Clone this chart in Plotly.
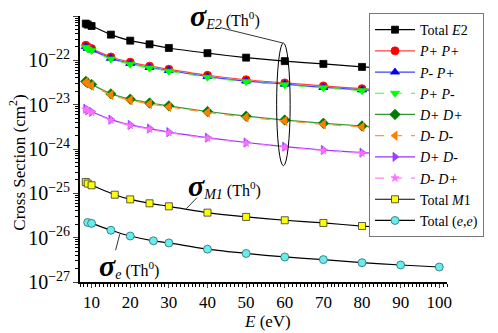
import plotly.graph_objects as go

# energies (eV)
E_main = [8.5, 9, 10, 15, 20, 25, 30, 40, 50, 60, 70, 80, 90, 100]
E_m1 = [8.5, 9, 10, 16, 20, 25, 30, 40, 50, 60, 70, 80, 90, 100]
E_ee = [9, 10, 15, 20, 26, 30, 40, 50, 60, 70, 80, 90, 100]

# cross sections (cm^2)
total_e2 = [6.74e-22, 6.39e-22, 5.95e-22, 3.8e-22, 2.78e-22, 2.3e-22, 1.9e-22, 1.45e-22, 1.15e-22, 9.6e-23, 8.3e-23, 7.1e-23, 6.4e-23, 5.8e-23]
pp_pp = [2.19e-22, 2.0e-22, 1.84e-22, 1.19e-22, 9.1e-23, 7.4e-23, 6.3e-23, 4.6e-23, 3.65e-23, 3.1e-23, 2.65e-23, 2.3e-23, 2.05e-23, 1.85e-23]
pm_pp = [2.04e-22, 1.86e-22, 1.71e-22, 1.11e-22, 8.5e-23, 6.9e-23, 5.9e-23, 4.3e-23, 3.4e-23, 2.9e-23, 2.45e-23, 2.15e-23, 1.9e-23, 1.72e-23]
pp_pm = [1.97e-22, 1.8e-22, 1.66e-22, 1.07e-22, 8.2e-23, 6.7e-23, 5.7e-23, 4.15e-23, 3.3e-23, 2.8e-23, 2.4e-23, 2.07e-23, 1.85e-23, 1.67e-23]
dp_dp = [3.35e-23, 3.1e-23, 2.85e-23, 1.75e-23, 1.33e-23, 1.09e-23, 9.4e-24, 7.0e-24, 5.5e-24, 4.5e-24, 3.8e-24, 3.3e-24, 2.95e-24, 2.65e-24]
dm_dm = [3.2e-23, 2.95e-23, 2.7e-23, 1.66e-23, 1.26e-23, 1.04e-23, 8.9e-24, 6.65e-24, 5.2e-24, 4.3e-24, 3.6e-24, 3.15e-24, 2.8e-24, 2.5e-24]
dp_dm = [8.1e-24, 7.5e-24, 6.9e-24, 4.6e-24, 3.5e-24, 2.9e-24, 2.4e-24, 1.8e-24, 1.4e-24, 1.13e-24, 9.5e-25, 8.3e-25, 7.4e-25, 6.6e-25]
dm_dp = [7.85e-24, 7.3e-24, 6.7e-24, 4.45e-24, 3.4e-24, 2.8e-24, 2.33e-24, 1.75e-24, 1.36e-24, 1.1e-24, 9.2e-25, 8.05e-25, 7.2e-25, 6.4e-25]
total_m1 = [1.80e-25, 1.66e-25, 1.52e-25, 9.3e-26, 7.3e-26, 5.96e-26, 5.1e-26, 3.67e-26, 2.94e-26, 2.47e-26, 2.15e-26, 1.83e-26, 1.62e-26, 1.45e-26]
total_ee = [2.2e-26, 2.1e-26, 1.47e-26, 1.09e-26, 8.5e-27, 7.6e-27, 5.5e-27, 4.4e-27, 3.67e-27, 3.2e-27, 2.73e-27, 2.42e-27, 2.18e-27]

FONT = "Liberation Serif"

series = [
    # name, x, y, line colour, dash, symbol, marker size, marker colour, marker line
    ("Total <i>E</i>2", E_main, total_e2, "black", "solid", "square", 7, "black", "black"),
    ("<i>P+ P+</i>", E_main, pp_pp, "#ff4040", "solid", "circle", 8, "#ff0000", "#ff0000"),
    ("<i>P- P+</i>", E_main, pm_pp, "#4040ff", "solid", "triangle-up", 8, "#0000ff", "#0000ff"),
    ("<i>P+ P-</i>", E_main, pp_pm, "#33ff33", "dash", "triangle-down", 8, "#00ff00", "#00ff00"),
    ("<i>D+ D+</i>", E_main, dp_dp, "#339933", "solid", "diamond", 8, "#007a00", "#007a00"),
    ("<i>D- D-</i>", E_main, dm_dm, "#ff9933", "dash", "triangle-left", 8, "#ff7f00", "#ff7f00"),
    ("<i>D+ D-</i>", E_main, dp_dm, "#9933ff", "solid", "triangle-right", 8, "#9a40ff", "#9a40ff"),
    ("<i>D- D+</i>", E_main, dm_dp, "#ff80ff", "dash", "star", 6, "#ff70ff", "#ff70ff"),
    ("Total <i>M</i>1", E_m1, total_m1, "black", "solid", "square", 7, "#ffff00", "#333333"),
    ("Total (<i>e</i>,<i>e</i>)", E_ee, total_ee, "black", "solid", "circle", 8, "#66eeee", "#336666"),
]

fig = go.Figure()
for name, x, y, lc, dash, sym, ms, mc, ml in series:
    fig.add_trace(go.Scatter(
        x=x, y=y, name=name, mode="lines+markers",
        line=dict(color=lc, width=1.2, dash=dash, shape="spline", smoothing=0.6),
        marker=dict(symbol=sym, size=ms, color=mc, line=dict(color=ml, width=0.8)),
    ))

# ellipse around the E2 group at 60 eV and leader lines
fig.add_shape(type="circle", xref="x", yref="y", x0=57.9, x1=61.4, y0=4.2e-25, y1=2.46e-22,
              line=dict(color="black", width=1))
fig.add_shape(type="line", xref="x", yref="y", x0=43.3, y0=5.47e-22, x1=59.5, y1=2.46e-22,
              line=dict(color="black", width=0.8))
fig.add_shape(type="line", xref="x", yref="y", x0=37.3, y0=8.0e-26, x1=34.5, y1=4.5e-26,
              line=dict(color="black", width=0.8))
fig.add_shape(type="line", xref="x", yref="y", x0=17.3, y0=1.2e-26, x1=16.2, y1=5.2e-27,
              line=dict(color="black", width=0.8))

def sigma(sub):
    return ('<span style="font-size:30px"><b><i>σ</i></b></span>'
            '<sub><span style="font-size:14px"><i>%s</i></span></sub> (Th<sup>0</sup>)' % sub)

# E2 label sits above the top of the axis range, so it goes on paper coordinates
fig.add_annotation(x=35.0, y=1.003, xref="x", yref="paper", text=sigma("E2"), showarrow=False,
                   xanchor="left", yanchor="middle", font=dict(family=FONT, size=16, color="black"))
for sub, ex, ey in [("M1", 34.5, -24.83), ("e", 11.3, -26.63)]:
    fig.add_annotation(x=ex, y=ey, xref="x", yref="y", text=sigma(sub), showarrow=False,
                       xanchor="left", yanchor="middle",
                       font=dict(family=FONT, size=16, color="black"))

fig.add_annotation(x=-0.17, y=0.447, xref="paper", yref="paper", textangle=-90,
                   xanchor="center", yanchor="middle",
                   text="Cross Section (cm<sup>2</sup>)", showarrow=False,
                   font=dict(family=FONT, size=17, color="black"))
fig.add_annotation(x=0.51, y=-0.15, xref="paper", yref="paper",
                   xanchor="center", yanchor="middle",
                   text="<i>E</i> (eV)", showarrow=False,
                   font=dict(family=FONT, size=17, color="black"))

fig.update_xaxes(
    range=[7, 102], tick0=0, dtick=10, ticks="outside", ticklen=4, tickwidth=1,
    showline=True, linecolor="black", linewidth=1.5, showgrid=False, zeroline=False,
    minor=dict(ticks="outside", dtick=1, ticklen=3, tickcolor="black"),
    tickfont=dict(family=FONT, size=17, color="black"), automargin=False,
)
fig.update_yaxes(
    type="log", range=[-27, -21], dtick=1, exponentformat="power", ticks="outside",
    ticklen=5, tickwidth=1, showline=True, linecolor="black", linewidth=1.5,
    showgrid=False, zeroline=False, automargin=False,
    minor=dict(ticks="outside", ticklen=3, tickcolor="black"),
    tickfont=dict(family=FONT, size=16, color="black"),
)

# the page puts the figure 8px in from its top-left corner, so the figure is 8px smaller
fig.update_layout(
    width=490, height=325,
    margin=dict(l=72, r=51, t=8, b=51, autoexpand=False),
    plot_bgcolor="white", paper_bgcolor="white",
    font=dict(family=FONT, color="black"),
    legend=dict(x=0.7875, y=1.011, xanchor="left", yanchor="top",
                bgcolor="white", bordercolor="#777777", borderwidth=1,
                font=dict(family=FONT, size=14, color="black"),
                itemwidth=40, tracegroupgap=0, maxheight=300),
)

fig.write_html("out.html")
